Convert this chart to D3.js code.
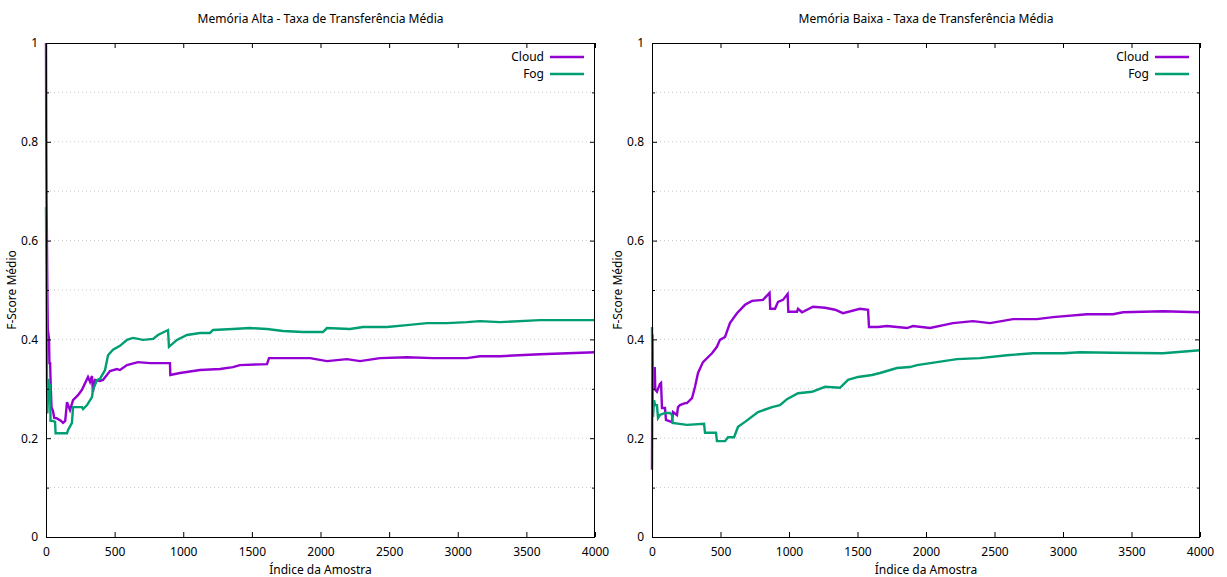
<!DOCTYPE html>
<html>
<head>
<meta charset="utf-8">
<script src="https://cdn.jsdelivr.net/npm/d3@7"></script>
<style>
  html, body { margin: 0; padding: 0; background: #fff; }
  svg { display: block; font-family: "Noto Sans", sans-serif; }
</style>
</head>
<body>
<svg id="chart" width="1227" height="577"></svg>
<script>
// ---- Data ----
const titles = ["Memória Alta - Taxa de Transferência Média", "Memória Baixa - Taxa de Transferência Média"];
const seriesNames = ["Cloud", "Fog"];
const xTicks = [0, 500, 1000, 1500, 2000, 2500, 3000, 3500, 4000];
const yTicks = [0, 0.2, 0.4, 0.6, 0.8, 1];
const yTickLabels = ["0", "0.2", "0.4", "0.6", "0.8", "1"];
const yMinorTicks = [0.1, 0.3, 0.5, 0.7, 0.9];
const xLabel = "Índice da Amostra";
const yLabel = "F-Score Médio";

// Memória Alta
const altaCloud = [[0,1.0],[2,0.80],[4,0.68],[6,0.625],[9,0.52],[13,0.42],[18,0.41],[22,0.40],[25,0.352],[30,0.352],[35,0.30],[40,0.263],[51,0.255],[60,0.241],[80,0.24],[110,0.235],[124,0.231],[140,0.235],[153,0.273],[175,0.257],[197,0.277],[233,0.287],[262,0.298],[306,0.324],[321,0.314],[335,0.326],[342,0.294],[357,0.318],[393,0.316],[415,0.318],[466,0.336],[517,0.340],[539,0.338],[590,0.348],[670,0.354],[758,0.352],[903,0.352],[906,0.328],[976,0.332],[1122,0.338],[1268,0.340],[1362,0.344],[1413,0.348],[1610,0.350],[1625,0.362],[1800,0.362],[1924,0.362],[2047,0.356],[2193,0.360],[2288,0.356],[2434,0.362],[2630,0.364],[2820,0.362],[3067,0.362],[3162,0.366],[3308,0.366],[3599,0.370],[4000,0.374]];
const altaFog = [[0,0.668],[3,0.55],[5,0.45],[7,0.32],[10,0.25],[15,0.29],[18,0.32],[22,0.30],[26,0.28],[30,0.31],[33,0.235],[50,0.235],[66,0.233],[70,0.21],[80,0.210],[153,0.210],[160,0.216],[189,0.231],[197,0.263],[262,0.263],[270,0.259],[299,0.267],[335,0.283],[342,0.298],[372,0.318],[393,0.320],[430,0.338],[452,0.368],[488,0.379],[539,0.387],[590,0.399],[634,0.403],[707,0.399],[780,0.401],[816,0.409],[889,0.419],[896,0.385],[954,0.399],[1027,0.409],[1122,0.413],[1195,0.413],[1217,0.419],[1362,0.421],[1486,0.423],[1610,0.421],[1727,0.417],[1872,0.415],[2018,0.415],[2047,0.423],[2215,0.421],[2310,0.425],[2485,0.425],[2630,0.429],[2776,0.433],[2922,0.433],[3067,0.435],[3162,0.437],[3308,0.435],[3599,0.439],[4000,0.439]];

// Memória Baixa
const baixaCloud = [[0,0.136],[3,0.41],[5,0.30],[15,0.30],[20,0.344],[24,0.298],[36,0.294],[58,0.310],[66,0.312],[73,0.261],[95,0.261],[102,0.237],[139,0.233],[146,0.233],[153,0.253],[182,0.247],[190,0.263],[204,0.267],[241,0.271],[255,0.271],[292,0.281],[314,0.304],[336,0.332],[372,0.354],[438,0.372],[474,0.385],[496,0.399],[533,0.405],[569,0.433],[620,0.453],[679,0.470],[730,0.478],[810,0.480],[858,0.494],[863,0.462],[898,0.462],[920,0.476],[956,0.480],[990,0.492],[995,0.456],[1058,0.456],[1066,0.462],[1095,0.455],[1175,0.466],[1263,0.464],[1336,0.460],[1394,0.453],[1518,0.462],[1577,0.460],[1584,0.425],[1650,0.425],[1715,0.427],[1861,0.423],[1905,0.427],[2029,0.423],[2197,0.433],[2343,0.437],[2467,0.433],[2635,0.441],[2810,0.441],[2927,0.445],[3175,0.451],[3365,0.451],[3438,0.455],[3730,0.457],[4000,0.455]];
const baixaFog = [[0,0.425],[4,0.30],[7,0.243],[15,0.277],[22,0.267],[36,0.267],[44,0.241],[58,0.247],[95,0.251],[131,0.251],[146,0.247],[150,0.231],[255,0.227],[380,0.229],[387,0.211],[467,0.211],[474,0.194],[533,0.194],[555,0.202],[599,0.202],[628,0.223],[679,0.233],[774,0.253],[876,0.263],[934,0.267],[985,0.279],[1066,0.291],[1168,0.294],[1263,0.304],[1372,0.302],[1431,0.318],[1504,0.324],[1606,0.328],[1664,0.332],[1788,0.342],[1883,0.344],[1934,0.348],[2080,0.354],[2226,0.360],[2394,0.362],[2591,0.368],[2781,0.372],[3000,0.372],[3124,0.374],[3365,0.373],[3730,0.372],[4000,0.378]];

const panelsData = [
  { title: titles[0], series: [altaCloud, altaFog] },
  { title: titles[1], series: [baixaCloud, baixaFog] }
];

// ---- Layout / style ----
const colors = ["#9400d3", "#009e73"];
const panelBoxes = [
  { left: 46, right: 595, top: 43, bottom: 537 },
  { left: 652, right: 1200, top: 43, bottom: 537 }
];
const svg = d3.select("#chart");
svg.append("rect").attr("width", 1227).attr("height", 577).attr("fill", "#fff");

panelsData.forEach((p, i) => {
  const b = panelBoxes[i];
  const x = d3.scaleLinear().domain([0, 4000]).range([b.left, b.right]);
  const y = d3.scaleLinear().domain([0, 1]).range([b.bottom, b.top]);
  const g = svg.append("g");

  // grid (horizontal dotted at every 0.1)
  const gridVals = d3.range(1, 10).map(v => v / 10);
  g.selectAll(".grid").data(gridVals).enter().append("line")
    .attr("x1", b.left).attr("x2", b.right)
    .attr("y1", d => y(d)).attr("y2", d => y(d))
    .attr("stroke", "#c8c8c8").attr("stroke-width", 1)
    .attr("stroke-dasharray", "1,3");

  // series
  const line = d3.line().x(d => x(d[0])).y(d => y(d[1]));
  p.series.forEach((s, k) => {
    g.append("path").datum(s)
      .attr("d", line)
      .attr("fill", "none")
      .attr("stroke", colors[k])
      .attr("stroke-width", 2.4)
      .attr("stroke-linejoin", "miter")
      .attr("stroke-linecap", "butt");
  });

  // axes: bottom, left with inward ticks; mirrored top/right ticks
  const axB = d3.axisBottom(x).tickValues(xTicks).tickSizeInner(-5).tickSizeOuter(0).tickPadding(10).tickFormat(d3.format("d"));
  const axT = d3.axisTop(x).tickValues(xTicks).tickSizeInner(-5).tickSizeOuter(0).tickFormat("");
  const axL = d3.axisLeft(y).tickValues(yTicks).tickSizeInner(-5).tickSizeOuter(0).tickPadding(8).tickFormat((d, j) => yTickLabels[j]);
  const axR = d3.axisRight(y).tickValues(yTicks).tickSizeInner(-5).tickSizeOuter(0).tickFormat("");
  const axLm = d3.axisLeft(y).tickValues(yMinorTicks).tickSizeInner(-3).tickSizeOuter(0).tickFormat("");
  const axRm = d3.axisRight(y).tickValues(yMinorTicks).tickSizeInner(-3).tickSizeOuter(0).tickFormat("");

  const styleAxis = sel => {
    sel.select(".domain").remove();
    sel.selectAll(".tick line").attr("stroke", "#000");
    sel.selectAll("text").attr("fill", "#000").style("font-size", "12px").style("font-family", "'Noto Sans', sans-serif");
  };
  g.append("g").attr("transform", `translate(0,${b.bottom})`).call(axB).call(styleAxis);
  g.append("g").attr("transform", `translate(0,${b.top})`).call(axT).call(styleAxis);
  g.append("g").attr("transform", `translate(${b.left},0)`).call(axL).call(styleAxis);
  g.append("g").attr("transform", `translate(${b.right},0)`).call(axR).call(styleAxis);
  g.append("g").attr("transform", `translate(${b.left},0)`).call(axLm).call(styleAxis);
  g.append("g").attr("transform", `translate(${b.right},0)`).call(axRm).call(styleAxis);

  // border
  g.append("rect")
    .attr("x", b.left + 0.5).attr("y", b.top + 0.5)
    .attr("width", b.right - b.left - 1).attr("height", b.bottom - b.top)
    .attr("fill", "none").attr("stroke", "#000").attr("stroke-width", 1);

  // title
  g.append("text").attr("x", (b.left + b.right) / 2).attr("y", 23)
    .attr("text-anchor", "middle").style("font-size", "12px").attr("fill", "#000")
    .text(p.title);

  // axis labels
  g.append("text").attr("x", (b.left + b.right) / 2).attr("y", 574)
    .attr("text-anchor", "middle").style("font-size", "12px").attr("fill", "#000")
    .text(xLabel);
  g.append("text")
    .attr("transform", `translate(${b.left - 30},${(b.top + b.bottom) / 2}) rotate(-90)`)
    .attr("text-anchor", "middle").style("font-size", "12px").attr("fill", "#000")
    .text(yLabel);

  // legend
  seriesNames.forEach((name, k) => {
    const ly = 57 + k * 17;
    g.append("text").attr("x", b.right - 51).attr("y", ly + 4)
      .attr("text-anchor", "end").style("font-size", "12px").attr("fill", "#000")
      .text(name);
    g.append("line").attr("x1", b.right - 45).attr("x2", b.right - 11)
      .attr("y1", ly).attr("y2", ly)
      .attr("stroke", colors[k]).attr("stroke-width", 2.4);
  });
});
</script>
</body>
</html>
